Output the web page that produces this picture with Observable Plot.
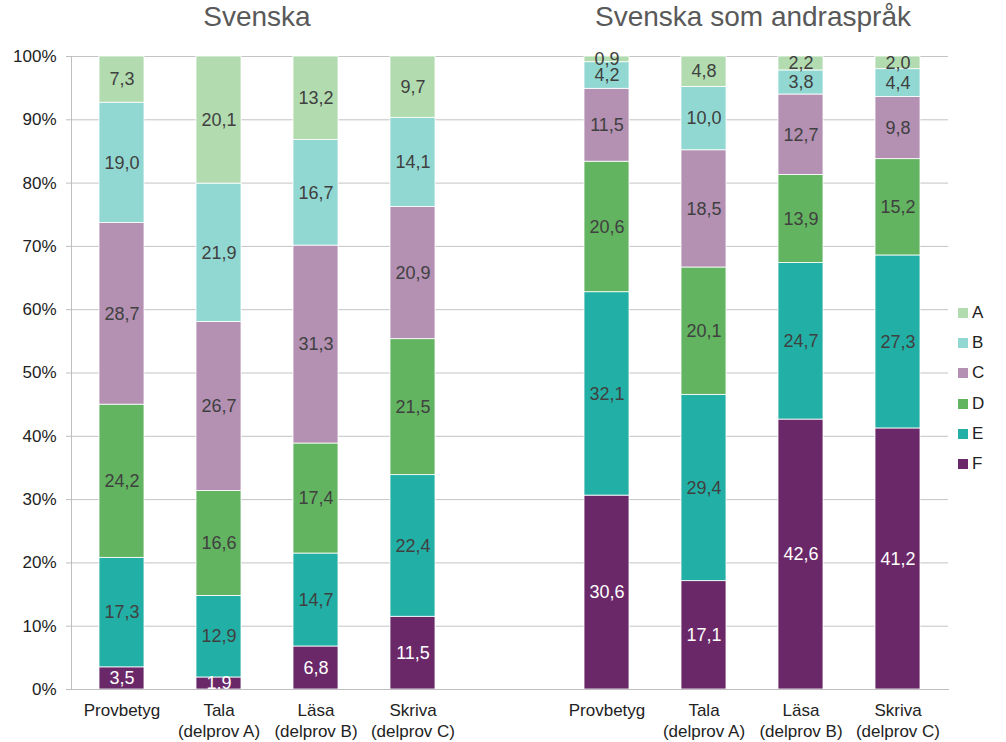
<!DOCTYPE html>
<html>
<head>
<meta charset="utf-8">
<script src="https://cdn.jsdelivr.net/npm/d3@7"></script>
<script src="https://cdn.jsdelivr.net/npm/@observablehq/plot@0.6"></script>
<style>
  html, body { margin: 0; padding: 0; background: #fff; }
  #wrap { position: relative; width: 1006px; height: 742px; font-family: "Liberation Sans", Arial, sans-serif; }
  #legend { position: absolute; left: 958px; top: 298px; font-size: 17px; color: #222; }
  #legend .row { display: flex; align-items: center; height: 30.2px; }
  #legend .sw { width: 10px; height: 10px; margin-right: 4px; }
</style>
</head>
<body>
<div id="wrap"><div id="chart"></div><div id="legend"></div></div>
<script>
// ---- data ----
const grades = ["F", "E", "D", "C", "B", "A"];            // bottom -> top
const legendOrder = ["A", "B", "C", "D", "E", "F"];
const gradeColors = ["#6B2869", "#22B0A6", "#63B460", "#B490B3", "#92D8D2", "#B2DCB0"];

const groupTitles = ["Svenska", "Svenska som andraspråk"];
const categoryKeys = ["sv_P", "sv_T", "sv_L", "sv_S", "gap", "sa_P", "sa_T", "sa_L", "sa_S"];
const categoryLabels = ["Provbetyg", "Tala\n(delprov A)", "Läsa\n(delprov B)", "Skriva\n(delprov C)", "",
                        "Provbetyg", "Tala\n(delprov A)", "Läsa\n(delprov B)", "Skriva\n(delprov C)"];

// values per grade, order F, E, D, C, B, A
const svenska = {
  sv_P: [3.5, 17.3, 24.2, 28.7, 19.0, 7.3],
  sv_T: [1.9, 12.9, 16.6, 26.7, 21.9, 20.1],
  sv_L: [6.8, 14.7, 17.4, 31.3, 16.7, 13.2],
  sv_S: [11.5, 22.4, 21.5, 20.9, 14.1, 9.7]
};
const andrasprak = {
  sa_P: [30.6, 32.1, 20.6, 11.5, 4.2, 0.9],
  sa_T: [17.1, 29.4, 20.1, 18.5, 10.0, 4.8],
  sa_L: [42.6, 24.7, 13.9, 12.7, 3.8, 2.2],
  sa_S: [41.2, 27.3, 15.2, 9.8, 4.4, 2.0]
};
const yTicks = [0, 0.1, 0.2, 0.3, 0.4, 0.5, 0.6, 0.7, 0.8, 0.9, 1.0];

// ---- table ----
const rows = [];
for (const src of [svenska, andrasprak]) {
  for (const [k, vals] of Object.entries(src)) {
    vals.forEach((v, i) => rows.push({k, grade: grades[i], v}));
  }
}
const labelOf = new Map(categoryKeys.map((k, i) => [k, categoryLabels[i]]));
const fmt = v => v.toFixed(1).replace(".", ",");
const stackOpts = {x: "k", y: "v", z: "grade", order: grades, offset: "normalize"};

const chart = Plot.plot({
  width: 1006,
  height: 742,
  marginLeft: 71,
  marginRight: 58,
  marginTop: 56,
  marginBottom: 53,
  style: {fontFamily: "'Liberation Sans', Arial, sans-serif", fontSize: "17px", color: "#222", background: "#fff"},
  x: {domain: categoryKeys, paddingInner: 0.535, paddingOuter: 0.2675, label: null},
  y: {domain: [0, 1], label: null},
  color: {domain: grades, range: gradeColors},
  marks: [
    Plot.ruleY(yTicks, {stroke: "#c4c4c4", strokeWidth: 1}),
    Plot.barY(rows, Plot.stackY({...stackOpts, fill: "grade", stroke: "white", strokeWidth: 0.8})),
    Plot.text(rows, Plot.stackY({...stackOpts, text: d => d.grade !== "F" ? fmt(d.v) : "", fill: "#404040", fontSize: 18})),
    Plot.text(rows, Plot.stackY({...stackOpts, text: d => d.grade === "F" ? fmt(d.v) : "", fill: "white", fontSize: 18})),
    Plot.frame({anchor: "left", stroke: "#bfbfbf"}),
    Plot.frame({anchor: "bottom", stroke: "#bfbfbf"}),
    Plot.axisY({ticks: yTicks, tickFormat: d => Math.round(d * 100) + "%", tickSize: 5, tickPadding: 10, stroke: "#bfbfbf", fill: "#222", fontSize: 17}),
    Plot.axisX({tickFormat: k => labelOf.get(k), tickSize: 0, tickPadding: 12, fill: "#222", fontSize: 17, lineHeight: 1.22}),
    Plot.text([groupTitles[0]], {x: () => "sv_T", text: d => d, frameAnchor: "top", lineAnchor: "middle", dx: 38, dy: -39, fontSize: 28, fill: "#595959"}),
    Plot.text([groupTitles[1]], {x: () => "sa_T", text: d => d, frameAnchor: "top", lineAnchor: "middle", dx: 49, dy: -39, fontSize: 28, fill: "#595959"})
  ]
});
document.getElementById("chart").appendChild(chart);

// legend
const leg = document.getElementById("legend");
for (const g of legendOrder) {
  const row = document.createElement("div");
  row.className = "row";
  const sw = document.createElement("div");
  sw.className = "sw";
  sw.style.background = gradeColors[grades.indexOf(g)];
  const t = document.createElement("span");
  t.textContent = g;
  row.appendChild(sw); row.appendChild(t);
  leg.appendChild(row);
}
</script>
</body>
</html>
